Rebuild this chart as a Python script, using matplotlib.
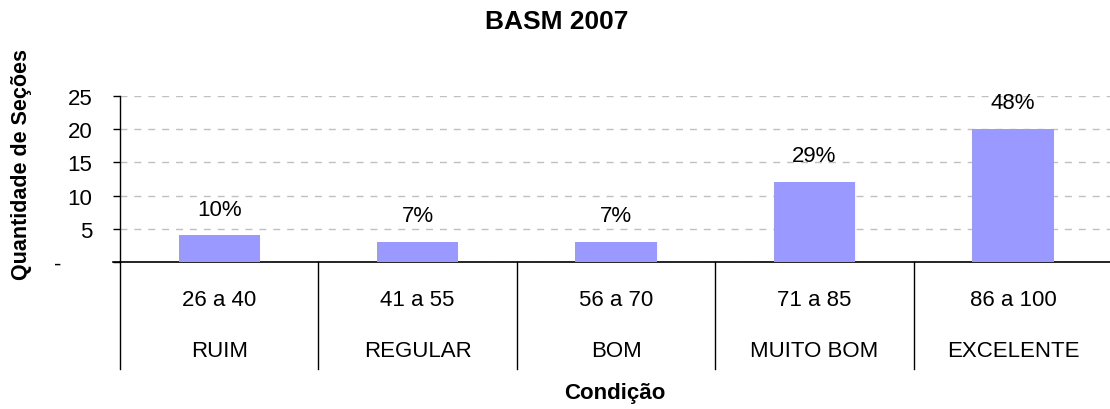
import matplotlib
matplotlib.use("Agg")
import matplotlib.pyplot as plt
from matplotlib.transforms import blended_transform_factory

ranges = ["26 a 40", "41 a 55", "56 a 70", "71 a 85", "86 a 100"]
conditions = ["RUIM", "REGULAR", "BOM", "MUITO BOM", "EXCELENTE"]
counts = [4, 3, 3, 12, 20]
pct_labels = ["10%", "7%", "7%", "29%", "48%"]
yticks = [0, 5, 10, 15, 20, 25]
ytick_labels = ["-     ", "5", "10", "15", "20", "25"]

plt.rcParams['font.family'] = ['Liberation Sans', 'DejaVu Sans']
FS = 16

fig = plt.figure(figsize=(11.1, 4.1), dpi=100)
ax = fig.add_axes([120/1110, 1-263/410, 1-120/1110 + 0.002, (263-97)/410])

x = list(range(len(counts)))
ax.bar(x, counts, width=0.41, color='#9999FF', zorder=3)
ax.set_xlim(-0.5, len(counts)-0.5)
ax.set_ylim(0, 25)
ax.set_yticks(yticks)
ax.set_yticklabels(ytick_labels, fontsize=FS)
ax.tick_params(axis='y', length=5, width=1, pad=15, direction='out')
ax.tick_params(axis='x', bottom=False, labelbottom=False)
ax.yaxis.grid(True, linestyle=(0, (5, 5)), color='#c0c0c0', linewidth=1, zorder=0)
for s in ['top', 'right']:
    ax.spines[s].set_visible(False)
ax.spines['left'].set_linewidth(1)
ax.spines['bottom'].set_linewidth(1.2)

for xi, c, lab in zip(x, counts, pct_labels):
    ax.annotate(lab, (xi, c), xytext=(0, 19), textcoords='offset points',
                ha='center', va='center', fontsize=FS)

trans = blended_transform_factory(ax.transData, ax.transAxes)
sep_bottom = -(370-263)/(263-97)
for b in [i - 0.5 for i in range(len(counts)+1)]:
    ax.plot([b, b], [0, sep_bottom], transform=trans, color='black', lw=1, clip_on=False)
ax.plot([-0.535, -0.5], [0, 0], transform=trans, color='black', lw=1.2, clip_on=False)

y_r = -(300-263)/(263-97)
y_c = -(352-263)/(263-97)
for xi, r, c in zip(x, ranges, conditions):
    ax.text(xi, y_r, r, transform=trans, ha='center', va='center', fontsize=FS)
    ax.text(xi, y_c, c, transform=trans, ha='center', va='center', fontsize=FS)

fig.text(557/1110, 1-22/410, "BASM 2007", ha='center', va='center', fontsize=19, fontweight='bold')
fig.text(615/1110, 1-394/410, "Condição", ha='center', va='center', fontsize=16, fontweight='bold')
fig.text(22/1110, 1-165/410, "Quantidade de Seções", ha='center', va='center', fontsize=15.5,
         fontweight='bold', rotation=90)

fig.savefig("out.png", dpi=100)
